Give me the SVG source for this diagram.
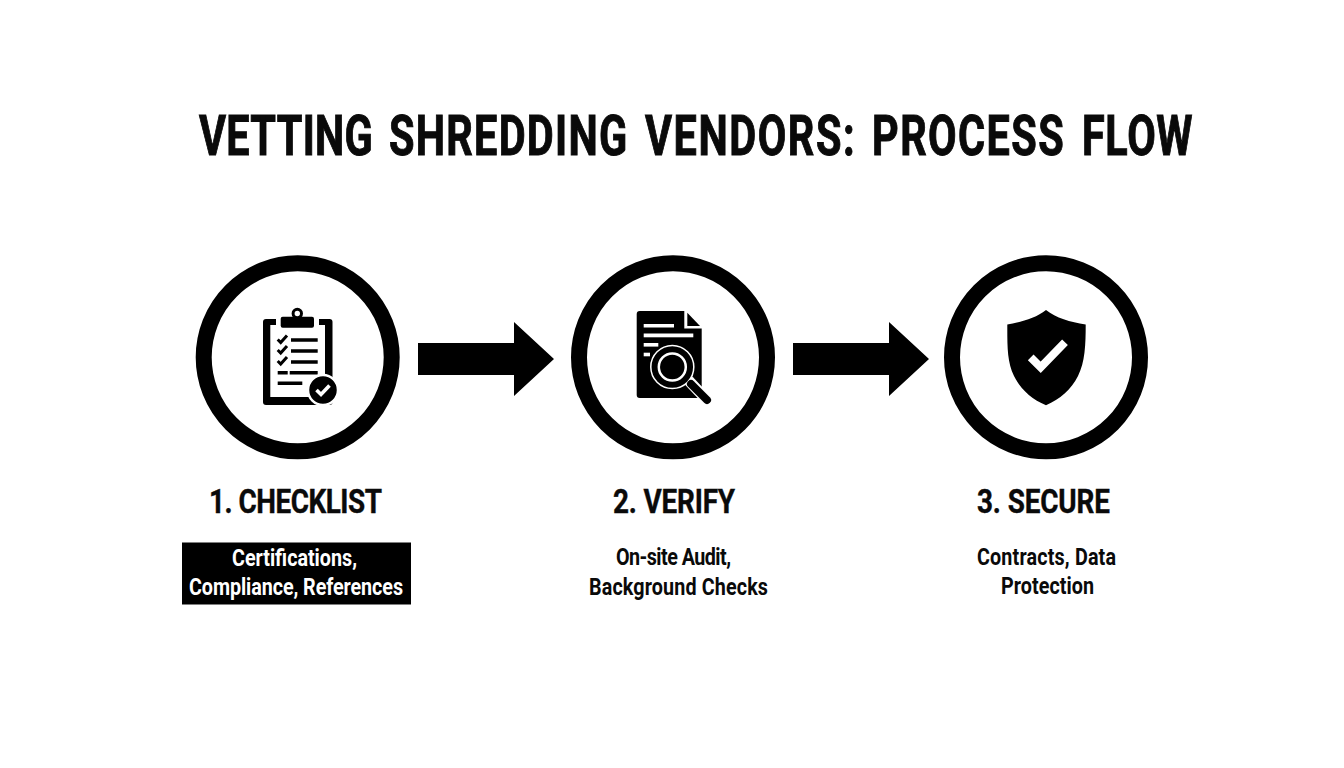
<svg xmlns="http://www.w3.org/2000/svg" width="1344" height="768" viewBox="0 0 1344 768">
<style>
text{font-family:Roboto,"Liberation Sans",sans-serif;font-weight:700;fill:#0a0a0a}
.title{font-size:56px;stroke:#0a0a0a;stroke-width:1px}
.head{font-size:34px;stroke:#0a0a0a;stroke-width:.4px}
.sub{font-size:23.500px}
.inv{fill:#fff}
.ring{fill:#fff;stroke:#000;stroke-width:16}
.k{fill:#000}
.w{fill:#fff}
.ln{stroke:#000;stroke-width:3.400;fill:none}
.ck{stroke:#000;stroke-width:3;fill:none}
</style>
<rect width="1344" height="768" fill="#fff"/>
<text class="title" transform="translate(199,155) scale(.74,1)"><tspan x="0" y="0" letter-spacing=".4">VETTING</tspan><tspan x="256.800" y="0" letter-spacing="1.700">SHREDDING</tspan><tspan x="602.700" y="0" letter-spacing="2.100">VENDORS:</tspan><tspan x="909.500" y="0" letter-spacing="1.900">PROCESS</tspan><tspan x="1193.200" y="0" letter-spacing=".9">FLOW</tspan></text>
<g id="connectors">
<polygon class="k" points="418,343 514,343 514,322 554,359 514,396 514,375 418,375"/>
<polygon class="k" points="793,343 889,343 889,322 929,359 889,396 889,375 793,375"/>
</g>
<g id="node-checklist">
<circle class="ring" cx="297.700" cy="357.300" r="94"/>
<rect class="k" x="263" y="319" width="69.500" height="86" rx="3"/>
<rect class="w" x="270.300" y="325" width="54.700" height="72"/>
<rect class="w" x="276" y="319" width="43" height="6"/>
<rect class="k" x="280.700" y="316.700" width="33.300" height="11" rx="2"/>
<circle cx="297.300" cy="313.500" r="4.200" fill="#fff" stroke="#000" stroke-width="3"/>
<path class="ck" d="M277.700 339.500l3 3 6.300-7M277.700 350l3 3 6.300-7M277.700 361l3 3 6.300-7"/>
<path class="ln" d="M291 340H317.700M291 351H317.700M291 362H317.700M277.700 372.700H287.700M289.700 372.700H317.700M277.700 383.300H302.300"/>
<circle class="k" cx="323" cy="390" r="15" stroke="#fff" stroke-width="2.500"/>
<path d="M316.500 390l4.500 4.500 8.500-9" fill="none" stroke="#fff" stroke-width="3.600"/>
<text class="head" transform="translate(209,513.300) scale(.82,1)" textLength="211" lengthAdjust="spacing">1. CHECKLIST</text>
<rect class="k" x="182" y="542.500" width="229" height="62"/>
<text class="sub inv" transform="translate(232,566) scale(.84,1)" textLength="148.800" lengthAdjust="spacing">Certifications,</text>
<text class="sub inv" transform="translate(189,594.500) scale(.84,1)" textLength="254.800" lengthAdjust="spacing">Compliance, References</text>
</g>
<g id="node-verify">
<circle class="ring" cx="673" cy="357.300" r="94"/>
<path class="k" d="M639 311H684.300V328.500H701.700V395a3 3 0 0 1-3 3H639.700a3 3 0 0 1-3-3V314a3 3 0 0 1 3-3Z"/>
<polygon class="k" points="687.300,312.700 700,326 687.300,326"/>
<g class="w"><rect x="643.700" y="324" width="30.300" height="3.500"/><rect x="643.700" y="333.500" width="49.600" height="3.800"/><rect x="643.700" y="343" width="14.600" height="3.600"/><rect x="643.700" y="352.700" width="6.300" height="3.600"/></g>
<path d="M689 381L707 400" stroke="#fff" stroke-width="11" stroke-linecap="round" fill="none"/>
<circle class="k" cx="672.300" cy="367" r="21.500" stroke="#fff" stroke-width="1.500"/>
<circle class="k" cx="672.300" cy="367" r="13.500" stroke="#fff" stroke-width="2.500"/>
<path d="M691 384L707 400" stroke="#000" stroke-width="8" stroke-linecap="round" fill="none"/>
<text class="head" transform="translate(613,513.300) scale(.82,1)" textLength="148.800" lengthAdjust="spacing">2. VERIFY</text>
<text class="sub" transform="translate(616,565) scale(.84,1)" textLength="136.900" lengthAdjust="spacing">On-site Audit,</text>
<text class="sub" transform="translate(589,594.500) scale(.84,1)" textLength="213.100" lengthAdjust="spacing">Background Checks</text>
</g>
<g id="node-secure">
<circle class="ring" cx="1046" cy="357.300" r="94"/>
<path class="k" d="M1046 310C1036 318 1022 322 1007.300 324.500C1007.300 345 1007 362 1014 376C1021 390 1032 399 1046 405.300C1060 399 1071 390 1078 376C1085 362 1085.700 345 1085.700 324.500C1070 322 1056 318 1046 310Z"/>
<path d="M1030.700 357.300L1040.700 367.300L1065 342.300" fill="none" stroke="#fff" stroke-width="8"/>
<text class="head" transform="translate(977,513.300) scale(.82,1)" textLength="162.200" lengthAdjust="spacing">3. SECURE</text>
<text class="sub" transform="translate(977,564.500) scale(.84,1)" textLength="165.500" lengthAdjust="spacing">Contracts, Data</text>
<text class="sub" transform="translate(1001,594) scale(.84,1)" textLength="110.700" lengthAdjust="spacing">Protection</text>
</g>
</svg>
